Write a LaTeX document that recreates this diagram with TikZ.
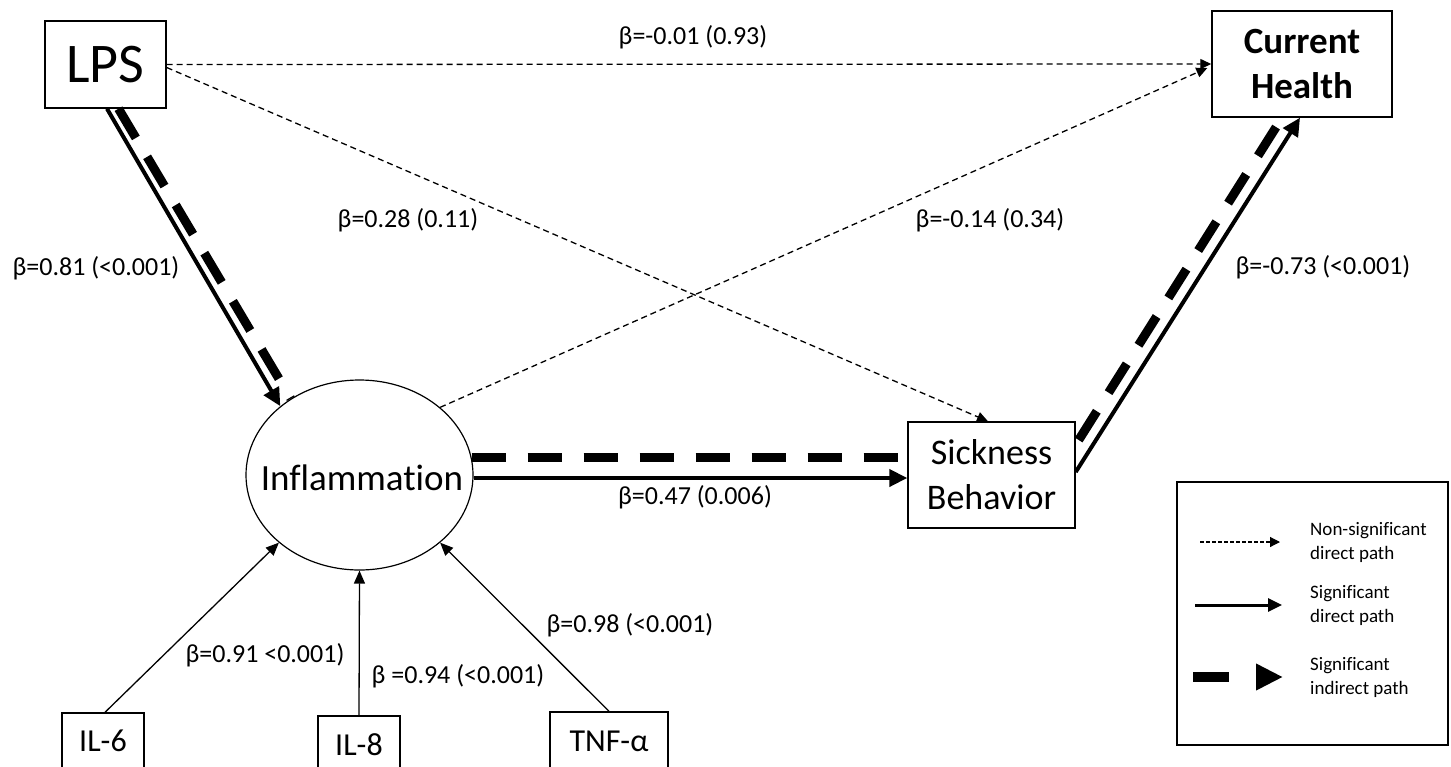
\documentclass[tikz,border=0pt]{standalone}
\usepackage{fontspec}
\setmainfont{Carlito}[Ligatures=NoCommon]
\usetikzlibrary{arrows.meta,shapes.geometric,calc}
\begin{document}
\begin{tikzpicture}[x=1pt,y=-1pt,
  box/.style={draw, line width=1.4pt, inner sep=0pt, align=center},
  lbl/.style={font=\fontsize{26}{30}\selectfont, inner sep=0pt},
  nsig/.style={line width=1.3pt, dash pattern=on 6pt off 4pt, -{Triangle[length=11pt,width=10pt]}},
  sig/.style={line width=4pt, -{Triangle[length=18pt,width=17pt]}},
  ind/.style={line width=9pt, dash pattern=on 34pt off 22pt},
  loadarrow/.style={line width=1.3pt, -{Triangle[length=13pt,width=11pt]}},
  leg/.style={font=\fontsize{19}{24}\selectfont, align=left, anchor=west, inner sep=0pt}
]
\useasboundingbox (0,0) rectangle (1451,766);
\clip (0,0) rectangle (1451,766);

% nodes
\node[box, minimum width=121pt, minimum height=87pt, font=\fontsize{56}{60}\selectfont] (lps) at (105.5,64.5) {LPS};
\node[box, minimum width=180pt, minimum height=106pt, font=\fontsize{37}{45}\selectfont\bfseries] (ch) at (1302,64) {Current\\Health};
\node[draw, line width=1.2pt, ellipse, minimum width=227pt, minimum height=190pt, inner sep=0pt] (infl) at (359.5,475) {};
\node[inner sep=0pt, font=\fontsize{37}{40}\selectfont] (infltext) at (362,478) {Inflammation};
\node[box, minimum width=167pt, minimum height=106pt, font=\fontsize{36}{45}\selectfont] (sick) at (991.5,475) {Sickness\\Behavior};
\node[box, minimum width=82pt, minimum height=56pt, font=\fontsize{32}{36}\selectfont] (il6) at (103,741) {IL-6};
\node[box, minimum width=82pt, minimum height=58pt, font=\fontsize{32}{36}\selectfont] (il8) at (359,745) {IL-8};
\node[box, minimum width=118pt, minimum height=58pt, font=\fontsize{32}{36}\selectfont] (tnf) at (609,741) {TNF-α};

% non-significant direct paths
\draw[nsig] (lps.east) -- (ch.west);
\draw[nsig] ($(lps.east)+(0,3)$) -- ($(sick.north)+(-3.5,0)$);
\draw[nsig] (infl.40) -- ($(ch.west)+(-4,4)$);

% significant paths
\draw[sig] ($(lps.south)+(1.5,0)$) -- (infl.139);
\draw[ind] ($(lps.south)+(13,0)$) -- (infl.132);
\draw[sig] ($(infl.east)+(0,3)$) -- ($(sick.west)+(0,3)$);
\draw[ind] ($(infl.east)+(-2,-18)$) -- ($(sick.west)+(0,-18)$);
\draw[sig] ($(sick.east)+(0,-3)$) -- ($(ch.south)+(-2,0)$);
\draw[ind] ($(sick.east)+(3,-35)$) -- ($(ch.south)+(-20,0)$);

% indicator loadings
\draw[loadarrow] ($(il6.north)+(2,0)$) -- (infl.220);
\draw[loadarrow] (il8.north) -- (infl.south);
\draw[loadarrow] (tnf.north) -- (infl.320);

% labels
\node[lbl] (l1) at (693,37) {β=-0.01 (0.93)};
\node[lbl] (l2) at (408,220) {β=0.28 (0.11)};
\node[lbl] (l3) at (990,220) {β=-0.14 (0.34)};
\node[lbl] (l4) at (96,268) {β=0.81 (<0.001)};
\node[lbl] (l5) at (1323,267) {β=-0.73 (<0.001)};
\node[lbl] (l6) at (695,497) {β=0.47 (0.006)};
\node[lbl] (l7) at (630,625) {β=0.98 (<0.001)};
\node[lbl] (l8) at (265,655) {β=0.91 <0.001)};
\node[lbl] (l9) at (458,676) {β =0.94 (<0.001)};

% legend
\node[draw, line width=1.4pt, minimum width=271pt, minimum height=263pt, inner sep=0pt] (legend) at (1312.5,613.5) {};
\coordinate (a1) at (1200,542);
\coordinate (b1) at (1280,542);
\draw[line width=1.1pt, dash pattern=on 4pt off 2pt, -{Triangle[length=10pt,width=10pt]}] (a1) -- (b1);
\node[leg] (t1) at (1310,542) {Non-significant\\direct path};
\coordinate (a2) at (1195,605);
\coordinate (b2) at (1282,605);
\draw[line width=3pt, -{Triangle[length=14pt,width=13pt]}] (a2) -- (b2);
\node[leg] (t2) at (1310,605) {Significant\\direct path};
\coordinate (a3) at (1193,677);
\coordinate (b3) at (1283,677);
\draw[line width=10pt, dash pattern=on 36pt off 200pt, -{Triangle[length=27pt,width=25pt]}] (a3) -- (b3);
\node[leg] (t3) at (1310,677) {Significant\\indirect path};
\end{tikzpicture}
\end{document}
